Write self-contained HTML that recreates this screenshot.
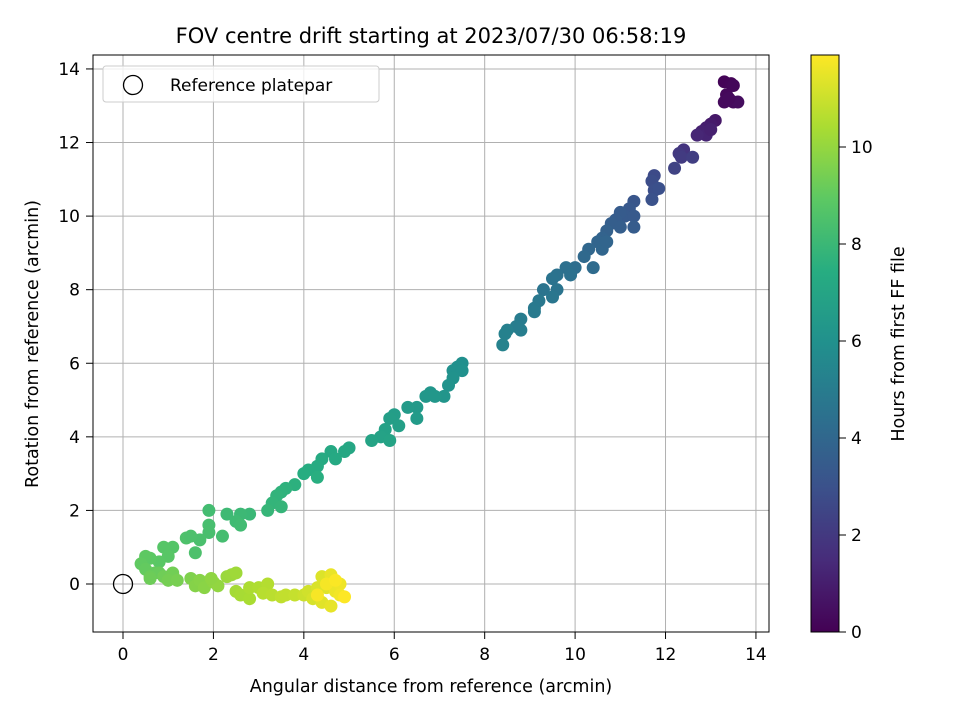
<!DOCTYPE html>
<html><head><meta charset="utf-8"><style>
html,body{margin:0;padding:0;background:#fff;}
svg text{font-family:"DejaVu Sans","Liberation Sans",sans-serif;fill:#000;}
</style></head><body>
<svg id="chart" width="960" height="720" viewBox="0 0 960 720" xmlns="http://www.w3.org/2000/svg">
<defs>
<linearGradient id="vir" x1="0" y1="1" x2="0" y2="0">
<stop offset="0" stop-color="#440154"/><stop offset="0.125" stop-color="#472c7a"/><stop offset="0.25" stop-color="#3b518b"/><stop offset="0.375" stop-color="#2c718e"/><stop offset="0.5" stop-color="#21908d"/><stop offset="0.625" stop-color="#27ad81"/><stop offset="0.75" stop-color="#5cc863"/><stop offset="0.875" stop-color="#aadc32"/><stop offset="1" stop-color="#fde725"/>
</linearGradient>
</defs>
<text x="431" y="43" font-size="21" text-anchor="middle">FOV centre drift starting at 2023/07/30 06:58:19</text>
<g id="grid"></g>
<g id="pts"></g>
<rect x="93" y="55" width="676" height="577" fill="none" stroke="#000" stroke-width="1"/>
<g id="ticks"></g>
<text x="431" y="692" font-size="17.5" text-anchor="middle">Angular distance from reference (arcmin)</text>
<text transform="translate(38,344) rotate(-90)" font-size="17.5" text-anchor="middle">Rotation from reference (arcmin)</text>
<g>
<rect x="103" y="66" width="276" height="36" rx="3" fill="#fff" fill-opacity="0.8" stroke="#ccc"/>
<circle cx="133" cy="85" r="9.5" fill="none" stroke="#000" stroke-width="1.3"/>
<text x="170" y="91" font-size="17">Reference platepar</text>
</g>
<rect x="811" y="55" width="28" height="577" fill="url(#vir)" stroke="#000" stroke-width="1"/>
<g id="cticks"></g>
<text transform="translate(904,344) rotate(-90)" font-size="17.5" text-anchor="middle">Hours from first FF file</text>
</svg>
<script>
const xs=[13.3,13.45,13.5,13.35,13.3,13.5,13.6,13.4,13.1,13.0,12.9,12.8,12.9,13.0,12.7,12.4,12.3,12.35,12.6,12.2,11.75,11.7,11.75,11.85,11.7,11.3,11.2,11.1,11.0,10.9,11.3,11.3,10.8,10.7,10.6,10.5,10.6,10.7,11.0,10.3,10.2,10.4,10.0,9.8,9.9,9.6,9.5,9.3,9.6,9.5,9.2,9.1,9.1,8.8,8.8,8.7,8.5,8.45,8.4,7.5,7.4,7.3,7.5,7.3,7.2,7.1,6.8,6.7,6.9,6.5,6.3,6.5,6.0,5.9,6.1,5.8,5.7,5.9,5.5,5.0,4.9,4.6,4.7,4.4,4.3,4.1,4.0,4.3,3.8,3.6,3.5,3.4,3.3,3.5,3.2,2.8,2.6,2.3,2.5,2.6,2.2,1.9,1.9,1.9,1.7,1.6,1.4,1.5,1.1,0.9,1.0,0.8,0.6,0.5,0.4,0.5,0.7,0.8,0.6,0.9,1.1,1.0,1.2,0.6,1.5,1.6,1.7,1.8,2.0,2.1,1.95,2.3,2.4,2.5,2.5,2.6,2.8,2.8,3.0,3.2,3.1,3.3,3.5,3.6,3.8,4.0,4.1,4.2,4.3,4.4,4.5,4.4,4.6,4.6,4.7,4.8,4.8,4.5,4.3,4.7,4.9];
const ys=[13.65,13.6,13.55,13.3,13.1,13.1,13.1,13.2,12.6,12.5,12.4,12.3,12.2,12.35,12.2,11.8,11.7,11.6,11.6,11.3,11.1,10.95,10.7,10.75,10.45,10.4,10.2,10.0,10.1,9.9,10.0,9.7,9.8,9.6,9.4,9.3,9.1,9.3,9.7,9.1,8.9,8.6,8.6,8.6,8.4,8.4,8.3,8.0,8.0,7.8,7.7,7.5,7.4,7.2,6.9,7.0,6.9,6.8,6.5,6.0,5.9,5.8,5.8,5.6,5.4,5.1,5.2,5.1,5.1,4.8,4.8,4.5,4.6,4.5,4.3,4.2,4.0,3.9,3.9,3.7,3.6,3.6,3.4,3.4,3.2,3.1,3.0,2.9,2.7,2.6,2.5,2.4,2.2,2.1,2.0,1.9,1.9,1.9,1.7,1.6,1.3,2.0,1.6,1.4,1.2,0.85,1.25,1.3,1.0,1.0,0.75,0.6,0.7,0.75,0.55,0.4,0.3,0.3,0.2,0.2,0.3,0.1,0.1,0.15,0.15,-0.05,0.1,-0.1,0.05,-0.05,0.15,0.2,0.25,0.3,-0.2,-0.3,-0.4,-0.1,-0.1,0.0,-0.25,-0.3,-0.35,-0.3,-0.3,-0.3,-0.2,-0.4,-0.1,0.2,-0.1,-0.5,-0.6,0.25,-0.2,0.0,-0.3,0.0,-0.3,0.1,-0.35];
const hours=[0.1,0.15,0.2,0.25,0.3,0.35,0.4,0.3,0.8,0.9,1.0,1.1,1.2,1.1,1.3,1.8,2.0,2.1,2.2,2.4,2.7,2.8,2.9,2.95,3.0,3.2,3.3,3.4,3.45,3.5,3.4,3.5,3.6,3.7,3.8,3.9,3.95,3.9,3.6,4.0,4.1,4.2,4.3,4.4,4.45,4.5,4.55,4.6,4.6,4.7,4.8,4.85,4.9,5.0,5.1,5.05,5.2,5.25,5.3,5.9,5.95,6.0,6.0,6.05,6.1,6.2,6.25,6.3,6.3,6.4,6.45,6.5,6.6,6.65,6.7,6.8,6.85,6.9,6.95,7.1,7.15,7.2,7.25,7.3,7.35,7.4,7.45,7.5,7.6,7.65,7.7,7.75,7.8,7.85,7.9,8.0,8.05,8.1,8.15,8.2,8.3,8.25,8.35,8.4,8.45,8.5,8.55,8.5,8.7,8.75,8.8,8.85,8.9,8.95,9.0,9.05,9.1,9.15,9.2,9.3,9.35,9.4,9.45,9.25,9.6,9.7,9.75,9.8,9.9,9.95,9.9,10.1,10.15,10.2,10.3,10.35,10.4,10.45,10.5,10.6,10.65,10.7,10.8,10.85,10.9,11.0,11.1,11.2,11.25,11.3,11.35,11.4,11.5,11.55,11.6,11.65,11.7,11.75,11.8,11.85,11.9];
const xTicks=[0,2,4,6,8,10,12,14];
const yTicks=[0,2,4,6,8,10,12,14];
const cTicks=[0,2,4,6,8,10];
const refX=[0], refY=[0];
const NS='http://www.w3.org/2000/svg';
const X=v=>123+v*45.21, Y=v=>584-v*36.79, C=v=>632-v*48.5, HMAX=11.9;
const vir=[[68,1,84],[71,44,122],[59,81,139],[44,113,142],[33,144,141],[39,173,129],[92,200,99],[170,220,50],[253,231,37]];
function col(t){t=Math.max(0,Math.min(1,t))*8;const i=Math.min(7,Math.floor(t)),f=t-i,a=vir[i],b=vir[i+1];return 'rgb('+a.map((v,k)=>Math.round(v+(b[k]-v)*f)).join(',')+')';}
function mk(tag,at,parent){const e=document.createElementNS(NS,tag);for(const k in at)e.setAttribute(k,at[k]);parent.appendChild(e);return e;}
const grid=document.getElementById('grid'),ticks=document.getElementById('ticks'),pts=document.getElementById('pts'),ct=document.getElementById('cticks');
xTicks.forEach(v=>{
 const g=mk('line',{x1:X(v),x2:X(v),y1:55,y2:632,stroke:'#b0b0b0','stroke-width':1},grid);
 
 
 mk('line',{x1:X(v),x2:X(v),y1:632,y2:639,stroke:'#000'},ticks);
 const t=mk('text',{x:X(v),y:660,'font-size':17,'text-anchor':'middle'},ticks);t.textContent=v;
 
 
});
yTicks.forEach(v=>{
 const g=mk('line',{x1:93,x2:769,y1:Y(v),y2:Y(v),stroke:'#b0b0b0','stroke-width':1},grid);
 
 
 mk('line',{x1:86,x2:93,y1:Y(v),y2:Y(v),stroke:'#000'},ticks);
 const t=mk('text',{x:80,y:Y(v)+6,'font-size':17,'text-anchor':'end'},ticks);t.textContent=v;
 
 
});
cTicks.forEach(v=>{
 mk('line',{x1:839,x2:846,y1:C(v),y2:C(v),stroke:'#000'},ct);
 const t=mk('text',{x:851,y:C(v)+6,'font-size':17},ct);t.textContent=v;
 
 
});
xs.forEach((x,i)=>{
 const c=mk('circle',{cx:X(x),cy:Y(ys[i]),r:6.5,fill:col(hours[i]/HMAX)},pts);
 
 
});
refX.forEach((x,i)=>{
 const c=mk('circle',{cx:X(x),cy:Y(refY[i]),r:9.5,fill:'none',stroke:'#000','stroke-width':1.3},pts);
 
 
});
</script>
</body></html>
